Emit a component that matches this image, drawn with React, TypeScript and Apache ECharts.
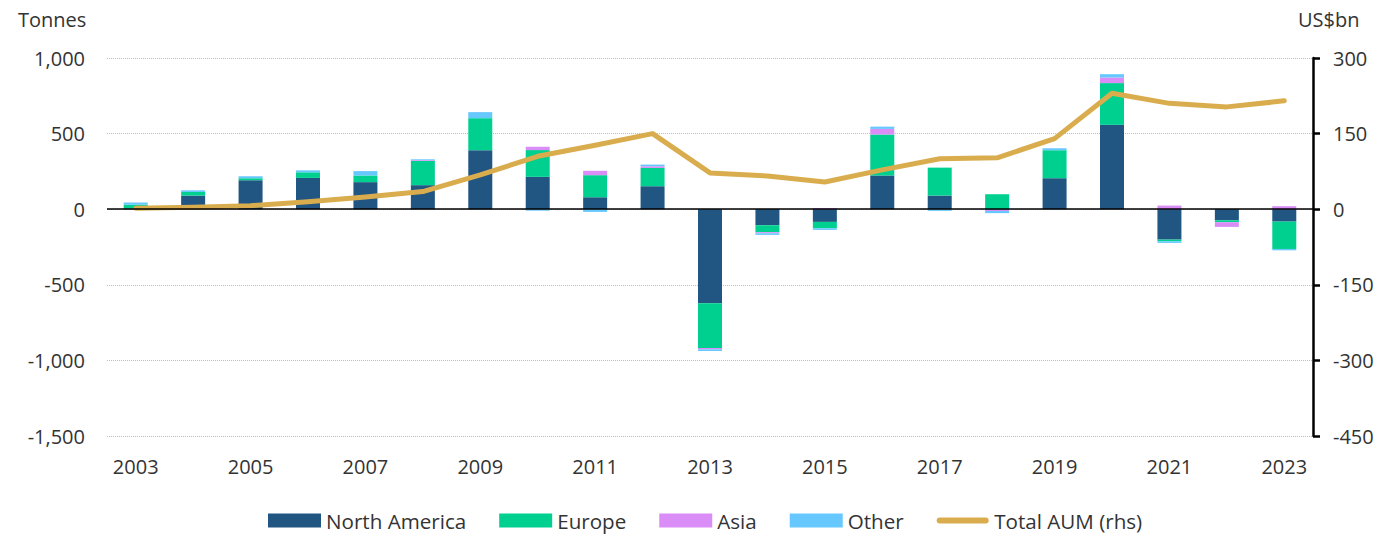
import React, { useEffect, useRef } from "react";
import * as echarts from "echarts";

const years = ["2003","2004","2005","2006","2007","2008","2009","2010","2011","2012","2013","2014","2015","2016","2017","2018","2019","2020","2021","2022","2023"];
const northAmerica = [5, 90, 192, 207, 179, 159, 390, 214, 79, 152, -622, -106, -84, 223, 90, -4, 205, 558, -201, -73, -82];
const europe = [25, 24, 13, 37, 44, 161, 212, 177, 146, 121, -296, -46, -42, 271, 185, 99, 185, 276, -11, -13, -181];
const asia = [0, 0, 0, 0, 0, 5, 0, 22, 29, 11, -9, -7, 7, 37, 0, -8, 0, 37, 24, -31, 20];
const other = [15, 11, 13, 13, 29, 5, 40, -10, -18, 11, -11, -11, -11, 15, -11, -14, 13, 22, -11, 0, -9];
const totalAUM = [2, 4, 7, 15, 24, 35, 68, 105, 127, 150, 72, 66, 54, 78, 100, 102, 140, 230, 210, 203, 215];

const leftTicks = [-1500, -1000, -500, 0, 500, 1000];
const rightTicks = [-450, -300, -150, 0, 150, 300];

const FONT = "'Open Sans', 'Noto Sans', sans-serif";
const TXT = "#333333";
const LINE_ICON = "path://M0,0M52,14M3,4L49,4A3,3,0,0,1,49,10L3,10A3,3,0,0,1,3,4Z";

export default function App() {
  const ref = useRef<HTMLDivElement>(null);
  useEffect(() => {
    if (!ref.current) return;
    const chart = echarts.init(ref.current, null, { renderer: "svg" });
    const barCommon = { type: "bar", stack: "t", barWidth: 24, yAxisIndex: 0 };
    chart.setOption({
      animation: false,
      textStyle: { fontFamily: FONT, color: TXT },
      grid: { left: 107, right: 83, top: 58, bottom: 98 },
      graphic: [
        { type: "text", left: 18, top: 9, style: { text: "Tonnes", font: `20px ${FONT}`, fill: TXT } },
        { type: "text", left: 1298, top: 9, style: { text: "US$bn", font: `20px ${FONT}`, fill: TXT } },
      ],
      legend: {
        top: 510,
        left: 268,
        padding: 0,
        itemWidth: 53,
        itemHeight: 14,
        itemGap: 33,
        itemStyle: { borderWidth: 0 },
        textStyle: { fontSize: 20.6, lineHeight: 20, color: TXT, fontFamily: FONT, padding: [0, 0, 0, 0] },
        data: [
          { name: "North America", icon: "rect" },
          { name: "Europe", icon: "rect" },
          { name: "Asia", icon: "rect" },
          { name: "Other", icon: "rect" },
          { name: "Total AUM (rhs)", icon: LINE_ICON, itemStyle: { color: "#D9AD4D", borderWidth: 0 } },
        ],
      },
      xAxis: {
        type: "category",
        data: years,
        axisLine: { show: false },
        axisTick: { show: false },
        axisLabel: { interval: 1, fontSize: 20, color: TXT, margin: 20 },
        splitLine: { show: false },
      },
      yAxis: [
        {
          type: "value",
          min: leftTicks[0],
          max: leftTicks[leftTicks.length - 1],
          interval: 500,
          axisLine: { show: false },
          axisTick: { show: false },
          axisLabel: {
            fontSize: 20,
            color: TXT,
            margin: 22,
            formatter: (v: number) => v.toLocaleString("en-US"),
          },
          splitLine: { show: true, lineStyle: { color: "#BDBDBD", type: "dotted", width: 1 } },
        },
        {
          type: "value",
          position: "right",
          min: rightTicks[0],
          max: rightTicks[rightTicks.length - 1],
          interval: 150,
          axisLine: { show: true, onZero: false, lineStyle: { color: "#000", width: 2.5 } },
          axisTick: { show: true, length: 7, lineStyle: { color: "#000", width: 2.5 } },
          axisLabel: { fontSize: 20, color: TXT, margin: 20 },
          splitLine: { show: false },
        },
      ],
      series: [
        {
          ...barCommon,
          name: "North America",
          data: northAmerica,
          itemStyle: { color: "#225682" },
          markLine: {
            silent: true,
            symbol: "none",
            label: { show: false },
            lineStyle: { color: "#000", type: "solid", width: 1.5 },
            data: [{ yAxis: 0 }],
            z: 10,
          },
        },
        { ...barCommon, name: "Europe", data: europe, itemStyle: { color: "#00D08F" } },
        { ...barCommon, name: "Asia", data: asia, itemStyle: { color: "#DA8DF7" } },
        { ...barCommon, name: "Other", data: other, itemStyle: { color: "#66C8FF" } },
        {
          type: "line",
          name: "Total AUM (rhs)",
          yAxisIndex: 1,
          data: totalAUM,
          symbol: "none",
          z: 5,
          lineStyle: { color: "#D9AD4D", width: 5, cap: "round", join: "round" },
          itemStyle: { color: "#D9AD4D" },
        },
      ],
    });
    return () => chart.dispose();
  }, []);
  return <div ref={ref} style={{ position: "absolute", left: 0, top: 0, width: 1396, height: 534 }} />;
}
